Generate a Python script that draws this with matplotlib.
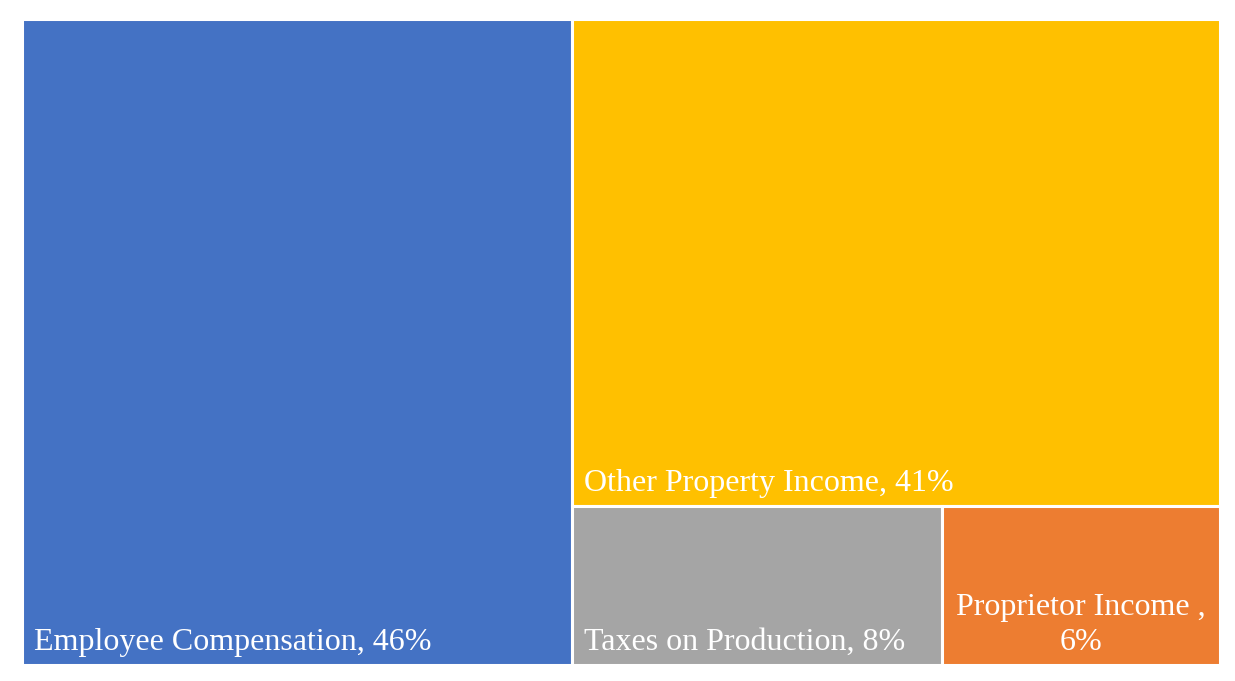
import matplotlib
matplotlib.use('Agg')
import matplotlib.pyplot as plt
from matplotlib.patches import Rectangle

labels = ['Employee Compensation', 'Other Property Income', 'Taxes on Production', 'Proprietor Income ,']
# shares (labels show them rounded)
shares = [45.9, 40.8, 7.6, 5.7]
colors = ['#4472C4', '#FFC000', '#A5A5A5', '#ED7D31']

plt.rcParams['font.family'] = ['Liberation Serif', 'DejaVu Serif']

fig = plt.figure(figsize=(12.35, 6.81), dpi=100)
ax = fig.add_axes([22 / 1235, 16 / 681, 1198 / 1235, 646 / 681])
ax.set_xlim(0, 1)
ax.set_ylim(0, 1)
ax.axis('off')

total = sum(shares)
# simple slice-and-dice layout like Excel: first block full height, then rows
w0 = shares[0] / total
rest = sum(shares[1:])
h1 = shares[1] / rest
w2 = (1 - w0) * shares[2] / (shares[2] + shares[3])
rects = [
    (0, 0, w0, 1),
    (w0, 1 - h1, 1 - w0, h1),
    (w0, 0, w2, 1 - h1),
    (w0 + w2, 0, 1 - w0 - w2, 1 - h1),
]

for (x, y, w, h), c in zip(rects, colors):
    ax.add_patch(Rectangle((x, y), w, h, facecolor=c, edgecolor='white', linewidth=2.2))

fs = 23
pad_x = 12 / 1198
pad_y = 15 / 646
for i in range(3):
    x, y, w, h = rects[i]
    ax.text(x + pad_x, y + pad_y, f'{labels[i]}, {shares[i]:.0f}%', color='white',
            fontsize=fs, ha='left', va='baseline')

x, y, w, h = rects[3]
ax.text(x + w / 2, y + pad_y, f'{labels[3]}\n{shares[3]:.0f}%', color='white',
        fontsize=fs, ha='center', va='baseline', multialignment='center', linespacing=1.25)

fig.savefig('out.png', dpi=100)
